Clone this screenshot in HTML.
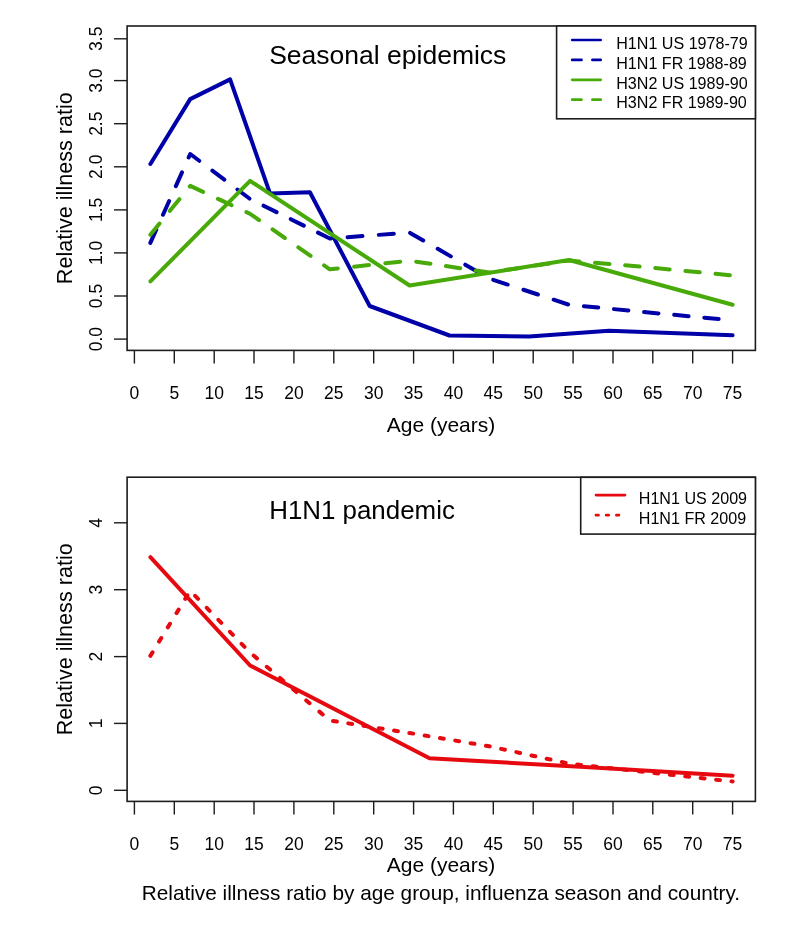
<!DOCTYPE html><html><head><meta charset="utf-8"><style>html,body{margin:0;padding:0;background:#fff;width:785px;height:930px;overflow:hidden}svg{display:block;will-change:transform}text{font-family:"Liberation Sans",sans-serif;fill:#000}</style></head><body>
<svg width="785" height="930" viewBox="0 0 785 930">
<rect width="785" height="930" fill="#fff"/>
<rect x="127.1" y="26.0" width="628.3" height="324.4" fill="none" stroke="#1c1c1c" stroke-width="1.6"/>
<line x1="114" y1="339.1" x2="127.1" y2="339.1" stroke="#1c1c1c" stroke-width="1.4"/>
<line x1="114" y1="296.0" x2="127.1" y2="296.0" stroke="#1c1c1c" stroke-width="1.4"/>
<line x1="114" y1="252.9" x2="127.1" y2="252.9" stroke="#1c1c1c" stroke-width="1.4"/>
<line x1="114" y1="209.9" x2="127.1" y2="209.9" stroke="#1c1c1c" stroke-width="1.4"/>
<line x1="114" y1="166.8" x2="127.1" y2="166.8" stroke="#1c1c1c" stroke-width="1.4"/>
<line x1="114" y1="123.7" x2="127.1" y2="123.7" stroke="#1c1c1c" stroke-width="1.4"/>
<line x1="114" y1="80.6" x2="127.1" y2="80.6" stroke="#1c1c1c" stroke-width="1.4"/>
<line x1="114" y1="38.8" x2="127.1" y2="38.8" stroke="#1c1c1c" stroke-width="1.4"/>
<line x1="134.4" y1="350.4" x2="134.4" y2="363.6" stroke="#1c1c1c" stroke-width="1.4"/>
<text transform="translate(134.4,399.3) scale(1,1.04)" font-size="17.5" text-anchor="middle">0</text>
<line x1="174.3" y1="350.4" x2="174.3" y2="363.6" stroke="#1c1c1c" stroke-width="1.4"/>
<text transform="translate(174.3,399.3) scale(1,1.04)" font-size="17.5" text-anchor="middle">5</text>
<line x1="214.2" y1="350.4" x2="214.2" y2="363.6" stroke="#1c1c1c" stroke-width="1.4"/>
<text transform="translate(214.2,399.3) scale(1,1.04)" font-size="17.5" text-anchor="middle">10</text>
<line x1="254.0" y1="350.4" x2="254.0" y2="363.6" stroke="#1c1c1c" stroke-width="1.4"/>
<text transform="translate(254.0,399.3) scale(1,1.04)" font-size="17.5" text-anchor="middle">15</text>
<line x1="293.9" y1="350.4" x2="293.9" y2="363.6" stroke="#1c1c1c" stroke-width="1.4"/>
<text transform="translate(293.9,399.3) scale(1,1.04)" font-size="17.5" text-anchor="middle">20</text>
<line x1="333.8" y1="350.4" x2="333.8" y2="363.6" stroke="#1c1c1c" stroke-width="1.4"/>
<text transform="translate(333.8,399.3) scale(1,1.04)" font-size="17.5" text-anchor="middle">25</text>
<line x1="373.7" y1="350.4" x2="373.7" y2="363.6" stroke="#1c1c1c" stroke-width="1.4"/>
<text transform="translate(373.7,399.3) scale(1,1.04)" font-size="17.5" text-anchor="middle">30</text>
<line x1="413.6" y1="350.4" x2="413.6" y2="363.6" stroke="#1c1c1c" stroke-width="1.4"/>
<text transform="translate(413.6,399.3) scale(1,1.04)" font-size="17.5" text-anchor="middle">35</text>
<line x1="453.4" y1="350.4" x2="453.4" y2="363.6" stroke="#1c1c1c" stroke-width="1.4"/>
<text transform="translate(453.4,399.3) scale(1,1.04)" font-size="17.5" text-anchor="middle">40</text>
<line x1="493.3" y1="350.4" x2="493.3" y2="363.6" stroke="#1c1c1c" stroke-width="1.4"/>
<text transform="translate(493.3,399.3) scale(1,1.04)" font-size="17.5" text-anchor="middle">45</text>
<line x1="533.2" y1="350.4" x2="533.2" y2="363.6" stroke="#1c1c1c" stroke-width="1.4"/>
<text transform="translate(533.2,399.3) scale(1,1.04)" font-size="17.5" text-anchor="middle">50</text>
<line x1="573.1" y1="350.4" x2="573.1" y2="363.6" stroke="#1c1c1c" stroke-width="1.4"/>
<text transform="translate(573.1,399.3) scale(1,1.04)" font-size="17.5" text-anchor="middle">55</text>
<line x1="613.0" y1="350.4" x2="613.0" y2="363.6" stroke="#1c1c1c" stroke-width="1.4"/>
<text transform="translate(613.0,399.3) scale(1,1.04)" font-size="17.5" text-anchor="middle">60</text>
<line x1="652.8" y1="350.4" x2="652.8" y2="363.6" stroke="#1c1c1c" stroke-width="1.4"/>
<text transform="translate(652.8,399.3) scale(1,1.04)" font-size="17.5" text-anchor="middle">65</text>
<line x1="692.7" y1="350.4" x2="692.7" y2="363.6" stroke="#1c1c1c" stroke-width="1.4"/>
<text transform="translate(692.7,399.3) scale(1,1.04)" font-size="17.5" text-anchor="middle">70</text>
<line x1="732.6" y1="350.4" x2="732.6" y2="363.6" stroke="#1c1c1c" stroke-width="1.4"/>
<text transform="translate(732.6,399.3) scale(1,1.04)" font-size="17.5" text-anchor="middle">75</text>
<text transform="translate(101.5,339.1) rotate(-90) scale(1,1.04)" font-size="17.5" text-anchor="middle">0.0</text>
<text transform="translate(101.5,296.0) rotate(-90) scale(1,1.04)" font-size="17.5" text-anchor="middle">0.5</text>
<text transform="translate(101.5,252.9) rotate(-90) scale(1,1.04)" font-size="17.5" text-anchor="middle">1.0</text>
<text transform="translate(101.5,209.9) rotate(-90) scale(1,1.04)" font-size="17.5" text-anchor="middle">1.5</text>
<text transform="translate(101.5,166.8) rotate(-90) scale(1,1.04)" font-size="17.5" text-anchor="middle">2.0</text>
<text transform="translate(101.5,123.7) rotate(-90) scale(1,1.04)" font-size="17.5" text-anchor="middle">2.5</text>
<text transform="translate(101.5,80.6) rotate(-90) scale(1,1.04)" font-size="17.5" text-anchor="middle">3.0</text>
<text transform="translate(101.5,38.8) rotate(-90) scale(1,1.04)" font-size="17.5" text-anchor="middle">3.5</text>
<text transform="translate(71.8,188.2) rotate(-90)" font-size="21.6" text-anchor="middle">Relative illness ratio</text>
<text x="441" y="431.6" font-size="21" text-anchor="middle">Age (years)</text>
<rect x="127.1" y="477.2" width="628.3" height="324.2" fill="none" stroke="#1c1c1c" stroke-width="1.6"/>
<line x1="114" y1="790.3" x2="127.1" y2="790.3" stroke="#1c1c1c" stroke-width="1.4"/>
<line x1="114" y1="723.4" x2="127.1" y2="723.4" stroke="#1c1c1c" stroke-width="1.4"/>
<line x1="114" y1="656.6" x2="127.1" y2="656.6" stroke="#1c1c1c" stroke-width="1.4"/>
<line x1="114" y1="589.7" x2="127.1" y2="589.7" stroke="#1c1c1c" stroke-width="1.4"/>
<line x1="114" y1="522.8" x2="127.1" y2="522.8" stroke="#1c1c1c" stroke-width="1.4"/>
<line x1="134.4" y1="801.4" x2="134.4" y2="814.6" stroke="#1c1c1c" stroke-width="1.4"/>
<text transform="translate(134.4,849.6) scale(1,1.04)" font-size="17.5" text-anchor="middle">0</text>
<line x1="174.3" y1="801.4" x2="174.3" y2="814.6" stroke="#1c1c1c" stroke-width="1.4"/>
<text transform="translate(174.3,849.6) scale(1,1.04)" font-size="17.5" text-anchor="middle">5</text>
<line x1="214.2" y1="801.4" x2="214.2" y2="814.6" stroke="#1c1c1c" stroke-width="1.4"/>
<text transform="translate(214.2,849.6) scale(1,1.04)" font-size="17.5" text-anchor="middle">10</text>
<line x1="254.0" y1="801.4" x2="254.0" y2="814.6" stroke="#1c1c1c" stroke-width="1.4"/>
<text transform="translate(254.0,849.6) scale(1,1.04)" font-size="17.5" text-anchor="middle">15</text>
<line x1="293.9" y1="801.4" x2="293.9" y2="814.6" stroke="#1c1c1c" stroke-width="1.4"/>
<text transform="translate(293.9,849.6) scale(1,1.04)" font-size="17.5" text-anchor="middle">20</text>
<line x1="333.8" y1="801.4" x2="333.8" y2="814.6" stroke="#1c1c1c" stroke-width="1.4"/>
<text transform="translate(333.8,849.6) scale(1,1.04)" font-size="17.5" text-anchor="middle">25</text>
<line x1="373.7" y1="801.4" x2="373.7" y2="814.6" stroke="#1c1c1c" stroke-width="1.4"/>
<text transform="translate(373.7,849.6) scale(1,1.04)" font-size="17.5" text-anchor="middle">30</text>
<line x1="413.6" y1="801.4" x2="413.6" y2="814.6" stroke="#1c1c1c" stroke-width="1.4"/>
<text transform="translate(413.6,849.6) scale(1,1.04)" font-size="17.5" text-anchor="middle">35</text>
<line x1="453.4" y1="801.4" x2="453.4" y2="814.6" stroke="#1c1c1c" stroke-width="1.4"/>
<text transform="translate(453.4,849.6) scale(1,1.04)" font-size="17.5" text-anchor="middle">40</text>
<line x1="493.3" y1="801.4" x2="493.3" y2="814.6" stroke="#1c1c1c" stroke-width="1.4"/>
<text transform="translate(493.3,849.6) scale(1,1.04)" font-size="17.5" text-anchor="middle">45</text>
<line x1="533.2" y1="801.4" x2="533.2" y2="814.6" stroke="#1c1c1c" stroke-width="1.4"/>
<text transform="translate(533.2,849.6) scale(1,1.04)" font-size="17.5" text-anchor="middle">50</text>
<line x1="573.1" y1="801.4" x2="573.1" y2="814.6" stroke="#1c1c1c" stroke-width="1.4"/>
<text transform="translate(573.1,849.6) scale(1,1.04)" font-size="17.5" text-anchor="middle">55</text>
<line x1="613.0" y1="801.4" x2="613.0" y2="814.6" stroke="#1c1c1c" stroke-width="1.4"/>
<text transform="translate(613.0,849.6) scale(1,1.04)" font-size="17.5" text-anchor="middle">60</text>
<line x1="652.8" y1="801.4" x2="652.8" y2="814.6" stroke="#1c1c1c" stroke-width="1.4"/>
<text transform="translate(652.8,849.6) scale(1,1.04)" font-size="17.5" text-anchor="middle">65</text>
<line x1="692.7" y1="801.4" x2="692.7" y2="814.6" stroke="#1c1c1c" stroke-width="1.4"/>
<text transform="translate(692.7,849.6) scale(1,1.04)" font-size="17.5" text-anchor="middle">70</text>
<line x1="732.6" y1="801.4" x2="732.6" y2="814.6" stroke="#1c1c1c" stroke-width="1.4"/>
<text transform="translate(732.6,849.6) scale(1,1.04)" font-size="17.5" text-anchor="middle">75</text>
<text transform="translate(101.5,790.3) rotate(-90) scale(1,1.04)" font-size="17.5" text-anchor="middle">0</text>
<text transform="translate(101.5,723.4) rotate(-90) scale(1,1.04)" font-size="17.5" text-anchor="middle">1</text>
<text transform="translate(101.5,656.6) rotate(-90) scale(1,1.04)" font-size="17.5" text-anchor="middle">2</text>
<text transform="translate(101.5,589.7) rotate(-90) scale(1,1.04)" font-size="17.5" text-anchor="middle">3</text>
<text transform="translate(101.5,522.8) rotate(-90) scale(1,1.04)" font-size="17.5" text-anchor="middle">4</text>
<text transform="translate(71.8,639.3) rotate(-90)" font-size="21.6" text-anchor="middle">Relative illness ratio</text>
<text x="441" y="871.8" font-size="21" text-anchor="middle">Age (years)</text>
<polyline points="150.4,164.0 190.2,99.1 230.1,79.4 270.0,193.4 309.9,192.2 369.7,306.0 449.5,335.5 529.2,336.6 609.0,330.8 732.6,335.2" fill="none" stroke="#0000a8" stroke-width="4.0" stroke-linecap="round" stroke-linejoin="round"/>
<path d="M150.35,242.90 L156.29,229.67 M163.00,214.71 L169.14,201.02 M175.85,186.06 L181.99,172.37 M188.70,157.41 L190.23,154.00 L199.23,160.77 M212.34,170.63 L224.33,179.65 M237.43,189.51 L249.42,198.52 M263.58,205.70 L276.58,212.14 M290.79,219.17 L303.79,225.61 M318.00,232.65 L329.81,238.50 L331.17,238.40 M347.53,237.19 L362.49,236.08 M378.84,234.87 L393.80,233.77 M410.09,232.90 L423.27,240.48 M437.69,248.78 L450.87,256.36 M465.28,264.66 L478.46,272.25 M493.22,279.78 L507.66,284.54 M523.46,289.75 L537.90,294.51 M553.69,299.72 L568.14,304.49 M583.86,306.23 L598.24,307.61 M613.96,309.13 L628.34,310.52 M644.06,312.04 L648.85,312.50 L658.44,313.39 M674.17,314.86 L688.55,316.20 M704.27,317.66 L718.66,319.00" fill="none" stroke="#0000a8" stroke-width="4.0" stroke-linecap="round" stroke-linejoin="round"/>
<polyline points="150.4,281.3 250.1,180.9 409.6,285.5 569.1,260.0 732.6,304.8" fill="none" stroke="#48aa08" stroke-width="4.0" stroke-linecap="round" stroke-linejoin="round"/>
<path d="M150.35,234.80 L159.52,223.56 M169.88,210.85 L179.36,199.23 M189.73,186.52 L190.23,185.90 L203.10,191.90 M217.96,198.83 L231.56,205.17 M246.42,212.11 L250.05,213.80 L259.08,220.08 M272.54,229.45 L284.85,238.01 M298.31,247.38 L310.62,255.95 M324.09,265.32 L329.81,269.30 L337.79,268.44 M354.10,266.68 L369.01,265.07 M385.31,263.32 L400.23,261.71 M416.21,261.68 L430.42,263.78 M445.96,266.08 L460.18,268.19 M475.72,270.49 L489.33,272.50 L489.94,272.41 M505.47,270.07 L519.68,267.93 M535.22,265.60 L549.43,263.46 M564.97,261.12 L569.09,260.50 L579.30,261.38 M595.04,262.74 L609.43,263.99 M625.17,265.35 L639.56,266.60 M655.28,268.02 L669.66,269.41 M685.38,270.93 L699.76,272.32 M715.48,273.84 L729.86,275.23" fill="none" stroke="#48aa08" stroke-width="4.0" stroke-linecap="round" stroke-linejoin="round"/>
<polyline points="150.4,557.1 250.1,665.5 429.5,758.3 589.0,767.3 732.6,775.7" fill="none" stroke="#e60a10" stroke-width="4.0" stroke-linecap="round" stroke-linejoin="round"/>
<path d="M150.35,655.90 L152.54,652.32 M159.07,641.65 L161.26,638.07 M167.78,627.41 L169.97,623.82 M176.49,613.16 L178.69,609.58 M185.21,598.91 L187.40,595.33 M195.15,595.78 L198.07,598.80 M206.76,607.78 L209.69,610.80 M218.38,619.78 L221.30,622.80 M229.99,631.78 L232.92,634.80 M241.61,643.78 L244.53,646.80 M253.64,655.56 L256.95,658.38 M266.80,666.78 L270.11,669.60 M279.95,677.99 L283.26,680.81 M293.10,689.20 L296.41,692.02 M306.26,700.42 L309.56,703.24 M319.41,711.63 L322.72,714.45 M333.00,721.00 L336.84,721.60 M348.27,723.39 L352.10,723.99 M363.53,725.78 L367.36,726.39 M378.79,728.18 L382.63,728.78 M394.05,730.57 L397.89,731.17 M409.31,732.96 L409.57,733.00 L413.16,733.60 M424.63,735.51 L428.48,736.15 M439.95,738.07 L443.80,738.71 M455.27,740.62 L459.12,741.26 M470.59,743.17 L474.44,743.82 M485.91,745.73 L489.33,746.30 L489.76,746.39 M501.12,748.86 L504.93,749.68 M516.29,752.15 L520.11,752.98 M531.47,755.44 L535.29,756.27 M546.65,758.73 L550.47,759.56 M561.83,762.02 L565.65,762.85 M577.14,764.49 L581.02,764.92 M592.58,766.19 L596.46,766.62 M608.02,767.89 L611.90,768.32 M623.45,769.60 L627.34,770.03 M638.89,771.30 L642.77,771.73 M654.33,773.00 L658.21,773.42 M669.77,774.67 L673.65,775.09 M685.21,776.35 L689.09,776.77 M700.65,778.03 L704.53,778.45 M716.09,779.71 L719.97,780.13 M731.53,781.38 L732.60,781.50" fill="none" stroke="#e60a10" stroke-width="4.0" stroke-linecap="round" stroke-linejoin="round"/>
<text x="269.2" y="63.8" font-size="26.5">Seasonal epidemics</text>
<text x="269.2" y="518.8" font-size="25.9">H1N1 pandemic</text>
<rect x="556.6" y="26" width="198.8" height="92.8" fill="#fff" stroke="#1c1c1c" stroke-width="1.6"/>
<line x1="572.2" y1="40.0" x2="600.7" y2="40.0" stroke="#0000a8" stroke-width="2.7" stroke-linecap="round"/>
<text x="616.2" y="48.7" font-size="16.1">H1N1 US 1978-79</text>
<line x1="572.2" y1="59.9" x2="600.7" y2="59.9" stroke="#0000a8" stroke-width="2.7" stroke-linecap="round" stroke-dasharray="9.3 10.9"/>
<text x="616.2" y="68.6" font-size="16.1">H1N1 FR 1988-89</text>
<line x1="572.2" y1="79.8" x2="600.7" y2="79.8" stroke="#48aa08" stroke-width="2.7" stroke-linecap="round"/>
<text x="616.2" y="88.5" font-size="16.1">H3N2 US 1989-90</text>
<line x1="572.2" y1="99.7" x2="600.7" y2="99.7" stroke="#48aa08" stroke-width="2.7" stroke-linecap="round" stroke-dasharray="9.3 10.9"/>
<text x="616.2" y="108.4" font-size="16.1">H3N2 FR 1989-90</text>
<rect x="580.7" y="477.3" width="174.7" height="56.8" fill="#fff" stroke="#1c1c1c" stroke-width="1.6"/>
<line x1="596.0" y1="495.1" x2="625.0" y2="495.1" stroke="#e60a10" stroke-width="2.7" stroke-linecap="round"/>
<text x="638.8" y="503.8" font-size="16.1">H1N1 US 2009</text>
<line x1="596.0" y1="515.2" x2="625.0" y2="515.2" stroke="#e60a10" stroke-width="2.7" stroke-linecap="round" stroke-dasharray="2.5 7.7"/>
<text x="638.8" y="523.9" font-size="16.1">H1N1 FR 2009</text>
<text x="141.7" y="900" font-size="20.8">Relative illness ratio by age group, influenza season and country.</text>
</svg></body></html>
